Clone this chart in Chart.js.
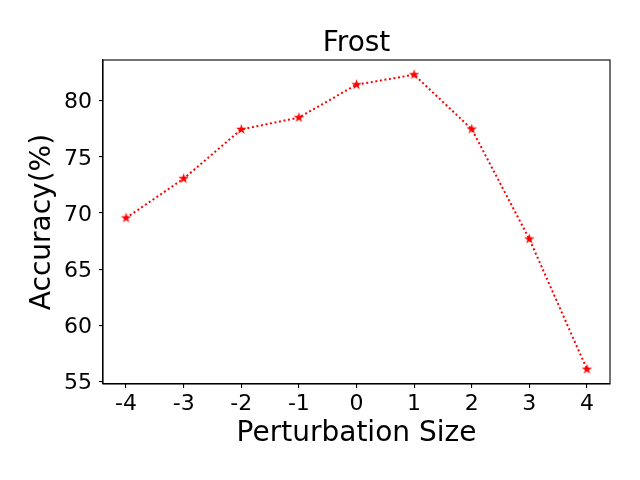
<!DOCTYPE html>
<html>
<head>
<meta charset="utf-8">
<script src="https://cdn.jsdelivr.net/npm/chart.js@4"></script>
<style>
  html, body { margin: 0; padding: 0; background: #fff; }
  #wrap { width: 640px; height: 480px; }
</style>
</head>
<body>
<div id="wrap"><canvas id="grafico" width="640" height="480"></canvas></div>
<script>
// Datos del gráfico
const perturbaciones = [-4, -3, -2, -1, 0, 1, 2, 3, 4];
const precision = [69.55, 73.06, 77.44, 78.5, 81.43, 82.32, 77.47, 67.68, 56.07];
const ticksX = [-4, -3, -2, -1, 0, 1, 2, 3, 4];
const ticksY = [55, 60, 65, 70, 75, 80];
const titulo = 'Frost';

const fuente = 'DejaVu Sans';

// Marcador estrella relleno (como el '*' de matplotlib)
function crearEstrella(r) {
    const c = document.createElement('canvas');
    const s = Math.ceil(r * 2 + 2);
    c.width = s;
    c.height = s;
    const g = c.getContext('2d');
    const cx = s / 2, cy = s / 2;
    const ri = r * 0.381966;
    g.beginPath();
    for (let i = 0; i < 10; i++) {
        const rad = i % 2 === 0 ? r : ri;
        const a = -Math.PI / 2 + i * Math.PI / 5;
        const x = cx + rad * Math.cos(a);
        const y = cy + rad * Math.sin(a);
        if (i === 0) g.moveTo(x, y); else g.lineTo(x, y);
    }
    g.closePath();
    g.fillStyle = '#ff0000';
    g.fill();
    return c;
}
const estrella = crearEstrella(5.5);

// Marco completo y título centrado sobre el área del gráfico
const marco = {
    id: 'marco',
    afterDraw(chart) {
        const a = chart.chartArea;
        const ctx = chart.ctx;
        ctx.save();
        ctx.strokeStyle = '#000';
        ctx.lineWidth = 1.1;
        ctx.strokeRect(a.left, a.top, a.right - a.left, a.bottom - a.top);
        ctx.fillStyle = '#000';
        ctx.font = '28px "' + fuente + '"';
        ctx.textAlign = 'center';
        ctx.textBaseline = 'alphabetic';
        ctx.fillText(titulo, (a.left + a.right) / 2, a.top - 9);
        ctx.restore();
    }
};

const puntos = perturbaciones.map((x, i) => ({ x: x, y: precision[i] }));

const ctx = document.getElementById('grafico').getContext('2d');
const grafico = new Chart(ctx, {
    type: 'line',
    data: {
        datasets: [{
            label: titulo,
            data: puntos,
            borderColor: '#ff0000',
            backgroundColor: '#ff0000',
            borderWidth: 2,
            borderDash: [2, 2.6],
            borderCapStyle: 'butt',
            pointStyle: estrella,
            pointRadius: 5,
            tension: 0,
            fill: false
        }]
    },
    options: {
        responsive: false,
        animation: false,
        layout: { padding: { left: 0, right: 30, top: 60, bottom: 0 } },
        plugins: {
            legend: { display: false },
            tooltip: { enabled: false },
            title: { display: false }
        },
        scales: {
            x: {
                type: 'linear',
                min: -4.4,
                max: 4.4,
                afterBuildTicks: (s) => { s.ticks = ticksX.map(v => ({ value: v })); },
                afterFit: (s) => { s.height = 96; },
                grid: { display: true, drawOnChartArea: false, drawTicks: true, tickLength: 4, color: '#000', lineWidth: 1.1 },
                border: { display: true, color: '#000', width: 1.1 },
                ticks: {
                    color: '#000',
                    font: { family: fuente, size: 22 },
                    padding: 3,
                    maxRotation: 0,
                    callback: (v) => String(v)
                },
                title: {
                    display: true,
                    text: 'Perturbation Size',
                    color: '#000',
                    font: { family: fuente, size: 28, lineHeight: 1.2 },
                    padding: { top: 0, bottom: 29 }
                }
            },
            y: {
                type: 'linear',
                min: 54.76,
                max: 83.63,
                afterBuildTicks: (s) => { s.ticks = ticksY.map(v => ({ value: v })); },
                afterFit: (s) => { s.width = 103; },
                grid: { display: true, drawOnChartArea: false, drawTicks: true, tickLength: 4, color: '#000', lineWidth: 1.1 },
                border: { display: true, color: '#000', width: 1.1 },
                ticks: {
                    color: '#000',
                    font: { family: fuente, size: 22 },
                    padding: 7,
                    labelOffset: 2,
                    callback: (v) => String(v)
                },
                title: {
                    display: true,
                    text: 'Accuracy(%)',
                    color: '#000',
                    font: { family: fuente, size: 28, lineHeight: 1.2 },
                    padding: { top: 26, bottom: 0 }
                }
            }
        }
    },
    plugins: [marco]
});
</script>
</body>
</html>
